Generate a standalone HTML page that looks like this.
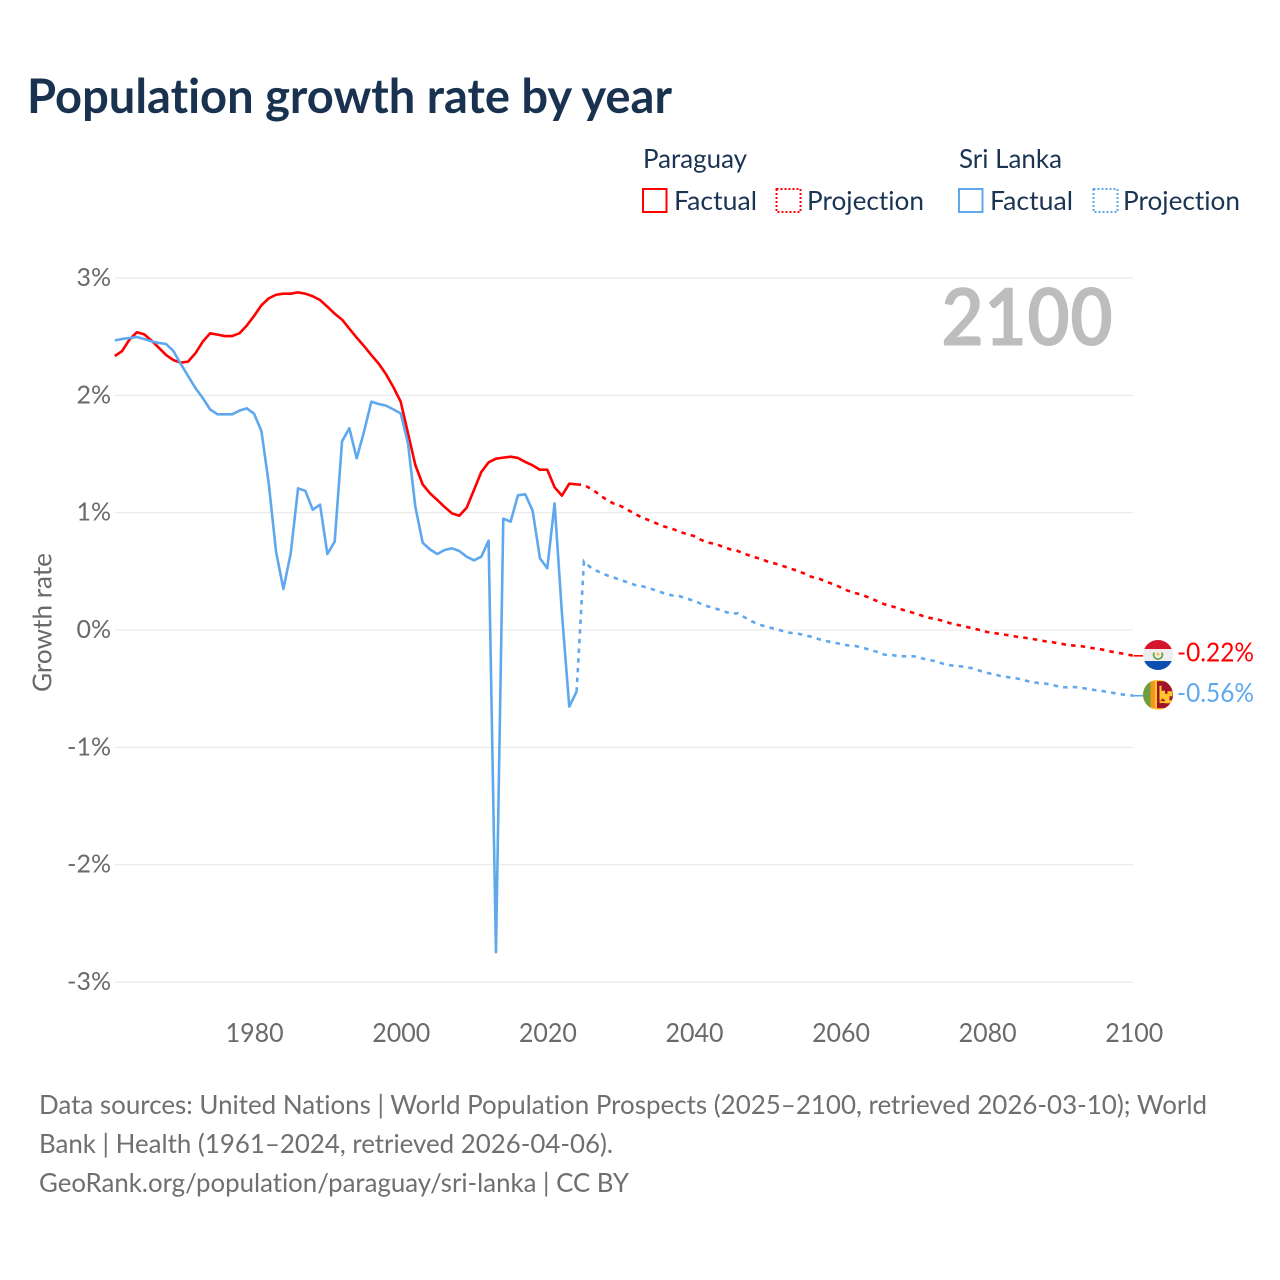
<!DOCTYPE html>
<html lang="en">
<head>
<meta charset="utf-8">
<title>Population growth rate by year</title>
<style>
html,body{margin:0;padding:0;background:#fff;width:1280px;height:1280px;overflow:hidden}
svg{display:block}
text{font-family:"Lato","Carlito","Liberation Sans",sans-serif;font-variant-ligatures:none}
</style>
</head>
<body>
<svg id="chart" xmlns="http://www.w3.org/2000/svg" width="1280" height="1280" viewBox="0 0 1280 1280">
  <defs>
    <clipPath id="clip-py"><circle cx="0" cy="0" r="15"></circle></clipPath>
    <clipPath id="clip-lk"><circle cx="0" cy="0" r="15"></circle></clipPath>
  </defs>
  <rect width="1280" height="1280" fill="#ffffff"></rect>
  <text x="27" y="113" font-size="48" font-weight="700" fill="#18324f" textLength="645" lengthAdjust="spacingAndGlyphs">Population growth rate by year</text>

  <g font-size="26" fill="#1b3454">
    <text x="643" y="168" textLength="104" lengthAdjust="spacingAndGlyphs">Paraguay</text>
    <text x="959" y="168" textLength="103" lengthAdjust="spacingAndGlyphs">Sri Lanka</text>
    <rect x="643" y="189" width="23.5" height="23" fill="none" stroke="#ff0000" stroke-width="2"></rect>
    <text x="674" y="210" textLength="83" lengthAdjust="spacingAndGlyphs">Factual</text>
    <rect x="776.5" y="189" width="24" height="23" fill="none" stroke="#ff0000" stroke-width="2" stroke-dasharray="2 2"></rect>
    <text x="807" y="210" textLength="117" lengthAdjust="spacingAndGlyphs">Projection</text>
    <rect x="959" y="189" width="23.5" height="23" fill="none" stroke="#5fa8ee" stroke-width="2"></rect>
    <text x="990" y="210" textLength="83" lengthAdjust="spacingAndGlyphs">Factual</text>
    <rect x="1093.5" y="189" width="24" height="23" fill="none" stroke="#5fa8ee" stroke-width="2" stroke-dasharray="2 2"></rect>
    <text x="1123" y="210" textLength="117" lengthAdjust="spacingAndGlyphs">Projection</text>
  </g>

  <g id="grid"></g>
  <g id="yticks"></g>
  <g id="xticks"></g>
  <text transform="translate(51.500,622.5) rotate(-90)" text-anchor="middle" font-size="26" fill="#6a6a6a" textLength="139" lengthAdjust="spacingAndGlyphs">Growth rate</text>
  <text x="1113" y="345.500" text-anchor="end" font-size="80" font-weight="700" fill="#bdbdbd" textLength="172" lengthAdjust="spacingAndGlyphs">2100</text>

  <g id="series"></g>

  <g id="flag-py">
    <g clip-path="url(#clip-py)">
      <rect x="-15" y="-15" width="30" height="30" fill="#eeeeee"></rect>
      <rect x="-15" y="-15" width="30" height="9" fill="#d5152e"></rect>
      <rect x="-15" y="6" width="30" height="9" fill="#0a4fb0"></rect>
      <path d="M-3.800 -2.500A4.400 4.400 0 1 0 3.800 -2.500" fill="none" stroke="#6aa54a" stroke-width="1.800"></path>
      <circle cx="0" cy="-0.800" r="1.400" fill="#f0c020"></circle>
    </g>
  </g>
  <g id="flag-lk">
    <g clip-path="url(#clip-lk)">
      <rect x="-15" y="-15" width="30" height="30" fill="#ffc72c"></rect>
      <rect x="-15" y="-13.500" width="7.5" height="27" fill="#6f9e3e"></rect>
      <rect x="-7.5" y="-13.500" width="4.5" height="27" fill="#f5961d"></rect>
      <rect x="-1" y="-13.500" width="16" height="27" fill="#a2122a"></rect>
      <rect x="1.500" y="-9" width="2" height="15" fill="#ffc72c"></rect>
      <path d="M3.500 -4h3.500v3h2.500v-2.500h5v5h-3v4h2.500v3h-7v-3.500h-1.500v-1h-2z" fill="#ffc72c"></path>
      <rect x="1.500" y="6.500" width="8" height="1.800" fill="#ffc72c"></rect>
    </g>
  </g>
  <g id="end-labels"></g>

  <g font-size="26" fill="#6f6f6f">
    <text x="39" y="1114" textLength="1168" lengthAdjust="spacingAndGlyphs">Data sources: United Nations | World Population Prospects (2025–2100, retrieved 2026-03-10); World</text>
    <text x="39" y="1153" textLength="574" lengthAdjust="spacingAndGlyphs">Bank | Health (1961–2024, retrieved 2026-04-06).</text>
    <text x="39" y="1192" textLength="590" lengthAdjust="spacingAndGlyphs">GeoRank.org/population/paraguay/sri-lanka | CC BY</text>
  </g>
</svg>
<script>
const factualStartYear = 1961;
const projectionStartYear = 2025;
const yTickValues = [3, 2, 1, 0, -1, -2, -3];
const yTickLabels = ["3%", "2%", "1%", "0%", "-1%", "-2%", "-3%"];
const xTickValues = [1980, 2000, 2020, 2040, 2060, 2080, 2100];
const xTickLabels = ["1980", "2000", "2020", "2040", "2060", "2080", "2100"];
const endLabelTexts = ["-0.22%", "-0.56%"];

const paraguayFactual = [
  2.335, 2.377, 2.475, 2.537, 2.52, 2.466, 2.406, 2.343, 2.30, 2.278,
  2.287, 2.358, 2.457, 2.528, 2.517, 2.505, 2.505, 2.528, 2.594, 2.676,
  2.767, 2.826, 2.857, 2.866, 2.866, 2.877, 2.866, 2.844, 2.812, 2.755,
  2.695, 2.645, 2.568, 2.491, 2.42, 2.343, 2.27, 2.18, 2.07, 1.946,
  1.676, 1.406, 1.241, 1.165, 1.108, 1.048, 0.994, 0.974, 1.042, 1.193,
  1.346, 1.429, 1.46, 1.469, 1.477, 1.466, 1.432, 1.403, 1.366, 1.366,
  1.216, 1.145, 1.247, 1.241
];
const sriLankaFactual = [
  2.468, 2.48, 2.488, 2.497, 2.48, 2.46, 2.446, 2.437, 2.377, 2.267,
  2.164, 2.062, 1.977, 1.88, 1.838, 1.838, 1.838, 1.869, 1.889, 1.843,
  1.696, 1.25, 0.667, 0.349, 0.653, 1.207, 1.185, 1.025, 1.068, 0.648,
  0.753, 1.608, 1.719, 1.463, 1.69, 1.946, 1.926, 1.912, 1.88, 1.846,
  1.591, 1.051, 0.744, 0.687, 0.648, 0.682, 0.696, 0.673, 0.625, 0.594,
  0.625, 0.761, -2.745, 0.949, 0.923, 1.148, 1.156, 1.017, 0.611, 0.526,
  1.079, 0.142, -0.653, -0.526
];
const paraguayProjection = [
  1.236, 1.202, 1.159, 1.113, 1.079, 1.057, 1.023, 0.988, 0.957, 0.932,
  0.906, 0.881, 0.864, 0.838, 0.818, 0.801, 0.767, 0.744, 0.733, 0.707,
  0.687, 0.673, 0.648, 0.625, 0.608, 0.585, 0.568, 0.548, 0.528, 0.506,
  0.483, 0.454, 0.44, 0.412, 0.392, 0.364, 0.335, 0.315, 0.298, 0.273,
  0.247, 0.219, 0.202, 0.182, 0.162, 0.145, 0.125, 0.105, 0.094, 0.077,
  0.057, 0.043, 0.03, 0.014, 0, -0.017, -0.026, -0.037, -0.045, -0.057,
  -0.065, -0.074, -0.085, -0.097, -0.105, -0.116, -0.128, -0.134, -0.139, -0.151,
  -0.159, -0.17, -0.185, -0.196, -0.207, -0.22
];
const sriLankaProjection = [
  0.585, 0.528, 0.497, 0.469, 0.449, 0.426, 0.406, 0.383, 0.372, 0.355,
  0.332, 0.312, 0.295, 0.29, 0.267, 0.25, 0.222, 0.199, 0.182, 0.162,
  0.139, 0.142, 0.105, 0.071, 0.045, 0.026, 0.011, -0.006, -0.023, -0.028,
  -0.043, -0.057, -0.077, -0.094, -0.105, -0.119, -0.131, -0.136, -0.151, -0.168,
  -0.187, -0.21, -0.213, -0.224, -0.224, -0.224, -0.241, -0.253, -0.267, -0.287,
  -0.301, -0.307, -0.313, -0.327, -0.347, -0.366, -0.378, -0.395, -0.403, -0.412,
  -0.426, -0.443, -0.452, -0.457, -0.469, -0.486, -0.489, -0.486, -0.494, -0.506,
  -0.514, -0.523, -0.534, -0.545, -0.554, -0.56
];

const SVG_NS = "http://www.w3.org/2000/svg";
const RED = "#ff0000";
const BLUE = "#5fa8ee";
function xScale(year) { return 114.8 + (year - 1961) * 7.33; }
function yScale(value) { return 630 - value * 117.35; }
function make(tag, parentId) {
  const el = document.createElementNS(SVG_NS, tag);
  document.getElementById(parentId).appendChild(el);
  return el;
}
function linePath(values, startYear) {
  return values.map(function (v, i) {
    return (i ? "L" : "M") + xScale(startYear + i).toFixed(2) + " " + yScale(v).toFixed(2);
  }).join("");
}

yTickValues.forEach(function (v, i) {
  const line = make("line", "grid");
  
  
  line.setAttribute("x1", 115);
  line.setAttribute("x2", 1133);
  line.setAttribute("y1", yScale(v));
  line.setAttribute("y2", yScale(v));
  line.setAttribute("stroke", "#ececec");
  line.setAttribute("stroke-width", "1.3");
  const label = make("text", "yticks");
  
  
  label.setAttribute("x", 111);
  label.setAttribute("y", yScale(v) + 8);
  label.setAttribute("text-anchor", "end");
  label.setAttribute("font-size", "25");
  label.setAttribute("fill", "#6a6a6a");
  label.textContent = yTickLabels[i];
});

xTickValues.forEach(function (year, i) {
  const label = make("text", "xticks");
  
  
  label.setAttribute("x", xScale(year) + 0.6);
  label.setAttribute("y", 1042);
  label.setAttribute("text-anchor", "middle");
  label.setAttribute("font-size", "26");
  label.setAttribute("fill", "#6a6a6a");
  label.setAttribute("textLength", "58");
  label.setAttribute("lengthAdjust", "spacingAndGlyphs");
  label.textContent = xTickLabels[i];
});

function drawFactual(values, color, name) {
  const path = make("path", "series");
  
  
  path.setAttribute("d", linePath(values, factualStartYear));
  path.setAttribute("fill", "none");
  path.setAttribute("stroke", color);
  path.setAttribute("stroke-width", "2.6");
  path.setAttribute("stroke-linejoin", "round");
}
function drawProjection(values, lastFactual, color, name) {
  const path = make("path", "series");
  
  
  path.setAttribute("d", linePath([lastFactual].concat(values), projectionStartYear - 1));
  path.setAttribute("fill", "none");
  path.setAttribute("stroke", color);
  path.setAttribute("stroke-width", "2.6");
  path.setAttribute("stroke-dasharray", "4.5 5.2");
}
function drawLeader(value, color, name) {
  const line = make("line", "series");
  
  
  line.setAttribute("x1", xScale(2100));
  line.setAttribute("x2", 1144);
  line.setAttribute("y1", yScale(value));
  line.setAttribute("y2", yScale(value));
  line.setAttribute("stroke", color);
  line.setAttribute("stroke-width", "1.6");
}
drawFactual(paraguayFactual, RED, "paraguay-factual-line");
drawFactual(sriLankaFactual, BLUE, "sri-lanka-factual-line");
drawProjection(paraguayProjection, paraguayFactual[paraguayFactual.length - 1], RED, "paraguay-projection-line");
drawProjection(sriLankaProjection, sriLankaFactual[sriLankaFactual.length - 1], BLUE, "sri-lanka-projection-line");

const paraguayEnd = paraguayProjection[paraguayProjection.length - 1];
const sriLankaEnd = sriLankaProjection[sriLankaProjection.length - 1];
drawLeader(paraguayEnd, RED, "paraguay-leader-line");
drawLeader(sriLankaEnd, BLUE, "sri-lanka-leader-line");

document.getElementById("flag-py").setAttribute("transform", "translate(1158," + (yScale(paraguayEnd) - 0.8) + ")");
document.getElementById("flag-lk").setAttribute("transform", "translate(1158," + (yScale(sriLankaEnd) - 1) + ")");

const pyLabel = make("text", "end-labels");


pyLabel.setAttribute("x", 1177);
pyLabel.setAttribute("y", yScale(paraguayEnd) + 5.5);
pyLabel.setAttribute("font-size", "26");
pyLabel.setAttribute("fill", RED);
pyLabel.setAttribute("textLength", "77");
pyLabel.setAttribute("lengthAdjust", "spacingAndGlyphs");
pyLabel.textContent = endLabelTexts[0];

const lkLabel = make("text", "end-labels");


lkLabel.setAttribute("x", 1177);
lkLabel.setAttribute("y", yScale(sriLankaEnd) + 6.5);
lkLabel.setAttribute("font-size", "26");
lkLabel.setAttribute("fill", BLUE);
lkLabel.setAttribute("textLength", "77");
lkLabel.setAttribute("lengthAdjust", "spacingAndGlyphs");
lkLabel.textContent = endLabelTexts[1];
</script>
</body>
</html>
